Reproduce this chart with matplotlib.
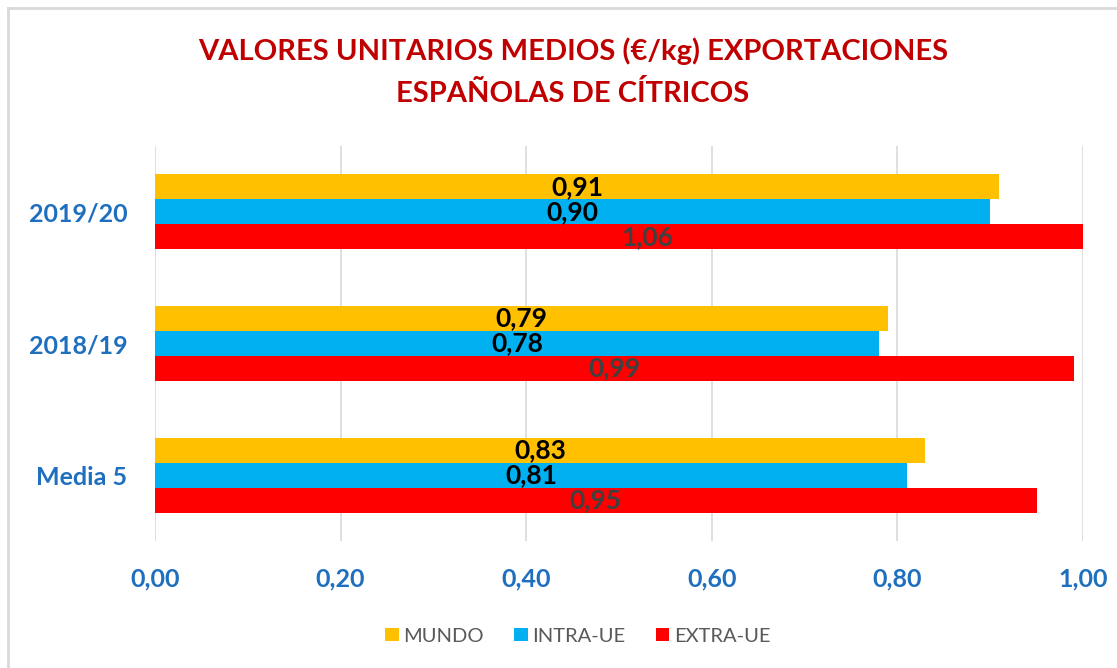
import numpy as np
import matplotlib
matplotlib.use("Agg")
import matplotlib.pyplot as plt
from matplotlib.lines import Line2D
from matplotlib.patches import Patch

plt.rcParams['font.family'] = ['Lato', 'DejaVu Sans']

# data
categories = ['Media 5', '2018/19', '2019/20']
series_names = ['MUNDO', 'INTRA-UE', 'EXTRA-UE']
mundo = [0.83, 0.79, 0.91]
intra_ue = [0.81, 0.78, 0.90]
extra_ue = [0.95, 0.99, 1.06]
x_ticks = [0.0, 0.2, 0.4, 0.6, 0.8, 1.0]

colors = ['#FFC000', '#00B0F0', '#FF0000']
label_colors = ['#000000', '#000000', '#404040']
blue_txt = '#1F6FBF'

fig = plt.figure(figsize=(11.17, 6.68), dpi=100)
ax = fig.add_axes([155/1117, 1 - 541/668, (1083-155)/1117, (541-146)/668])

y = np.arange(len(categories))
h = 0.19
offsets = [h, 0, -h]
all_series = [mundo, intra_ue, extra_ue]

for vals, off, col, lcol, name in zip(all_series, offsets, colors, label_colors, series_names):
    ax.barh(y + off, vals, height=h, color=col, label=name, zorder=2)
    for yi, v in zip(y, vals):
        ax.text(v / 2, yi + off, f'{v:.2f}'.replace('.', ','), ha='center', va='center',
                fontsize=19, fontweight='bold', color=lcol, zorder=3)

ax.set_xlim(0, 1.0)
ax.set_ylim(-0.5, 2.5)
ax.set_xticks(x_ticks)
ax.set_xticklabels([f'{t:.2f}'.replace('.', ',') for t in x_ticks])
ax.set_yticks(y)
ax.set_yticklabels(categories)
ax.tick_params(axis='both', length=0, labelsize=18, labelcolor=blue_txt)
ax.tick_params(axis='y', pad=20)
ax.tick_params(axis='x', pad=19)
for lab in ax.get_xticklabels() + ax.get_yticklabels():
    lab.set_fontweight('bold')

ax.grid(axis='x', color='#D9D9D9', linewidth=1.2, zorder=0)
ax.set_axisbelow(True)
for s in ax.spines.values():
    s.set_visible(False)

fig.text(573/1117, 1 - 51/668, 'VALORES UNITARIOS MEDIOS (€/kg) EXPORTACIONES',
         ha='center', va='center', fontsize=21, fontweight='bold', color='#C00000')
fig.text(573/1117, 1 - 93/668, 'ESPAÑOLAS DE CÍTRICOS',
         ha='center', va='center', fontsize=21, fontweight='bold', color='#C00000')

# chart border
fig.add_artist(Line2D([8/1117, 8/1117], [0, 1 - 8/668], transform=fig.transFigure,
                      color='#D9D9D9', linewidth=2))
fig.add_artist(Line2D([8/1117, 1], [1 - 8/668, 1 - 8/668], transform=fig.transFigure,
                      color='#D9D9D9', linewidth=2))

handles = [Patch(facecolor=c, edgecolor='none') for c in colors]
leg = fig.legend(handles, series_names, loc='center', bbox_to_anchor=(578/1117, 1 - 636/668),
                 ncol=3, frameon=False, fontsize=14.5, handlelength=0.65, handleheight=0.65,
                 handletextpad=0.25, columnspacing=1.5)
for t in leg.get_texts():
    t.set_color('#595959')

fig.savefig('out.png', dpi=100)
